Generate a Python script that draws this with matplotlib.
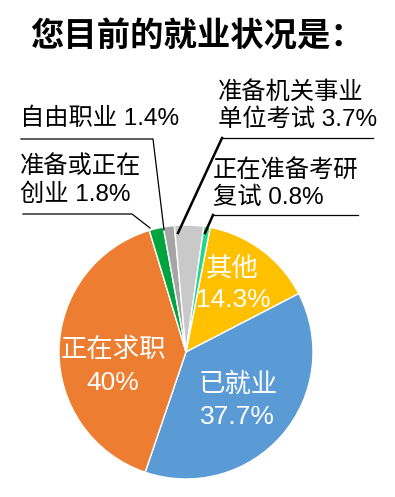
import matplotlib
matplotlib.use("Agg")
import matplotlib.pyplot as plt

plt.rcParams['font.family'] = ['Liberation Sans', 'Noto Sans CJK SC', 'DejaVu Sans']

# Datos (orden en sentido horario desde arriba)
categories = ["其他", "已就业", "正在求职", "准备或正在创业", "自由职业", "准备机关事业单位考试", "正在准备考研复试"]
values = [14.3, 37.7, 40.0, 1.8, 1.4, 3.7, 0.8]
colors = ["#ffc000", "#5b9bd5", "#ed7d31", "#00a33c", "#a5a5a5", "#c9c9c9", "#22d68a"]
title = "您目前的就业状况是："

W, H = 395, 497

fig = plt.figure(figsize=(W / 100, H / 100), dpi=100)
ax = fig.add_axes([0, 0, 1, 1])

ax.pie(values, colors=colors, startangle=79, counterclock=False,
       center=(186, H - 352), radius=127,
       wedgeprops=dict(edgecolor="white", linewidth=1))
ax.set_xlim(0, W)
ax.set_ylim(0, H)
ax.set_aspect("equal")
ax.axis("off")

def Y(y):
    return H - y

# titulo
ax.text(197, Y(37), title, ha="center", va="center", fontsize=24, fontweight="bold")

# etiquetas dentro
fs_in = 19
ax.text(232, Y(268), "其他", ha="center", va="center", fontsize=fs_in, color="white")
ax.text(233, Y(300), "14.3%", ha="center", va="center", fontsize=fs_in, color="white")
ax.text(113, Y(350), "正在求职", ha="center", va="center", fontsize=fs_in, color="white")
ax.text(113, Y(383), "40%", ha="center", va="center", fontsize=fs_in, color="white")
ax.text(238, Y(385), "已就业", ha="center", va="center", fontsize=fs_in, color="white")
ax.text(237, Y(417), "37.7%", ha="center", va="center", fontsize=fs_in, color="white")

# etiquetas fuera
fs_out = 17.5
ax.text(20, Y(119), "自由职业 1.4%", ha="left", va="center", fontsize=fs_out)
ax.text(20, Y(167), "准备或正在", ha="left", va="center", fontsize=fs_out)
ax.text(20, Y(195), "创业 1.8%", ha="left", va="center", fontsize=fs_out)
ax.text(218, Y(93), "准备机关事业", ha="left", va="center", fontsize=fs_out)
ax.text(218, Y(120), "单位考试 3.7%", ha="left", va="center", fontsize=fs_out)
ax.text(213, Y(170), "正在准备考研", ha="left", va="center", fontsize=fs_out)
ax.text(213, Y(198), "复试 0.8%", ha="left", va="center", fontsize=fs_out)

# lineas guia
ax.plot([21, 153, 164], [Y(139), Y(139), Y(230)], color="black", lw=0.9)
ax.plot([23, 132, 150], [Y(214), Y(214), Y(228)], color="black", lw=0.9)
ax.plot([373, 222], [Y(138), Y(138)], color="black", lw=0.9)
ax.plot([222, 178], [Y(138), Y(233)], color="black", lw=1.8)
ax.plot([358, 213], [Y(215), Y(215)], color="black", lw=0.9)
ax.plot([213, 205], [Y(215), Y(233)], color="black", lw=1.8)

fig.savefig("out.png", dpi=100)
